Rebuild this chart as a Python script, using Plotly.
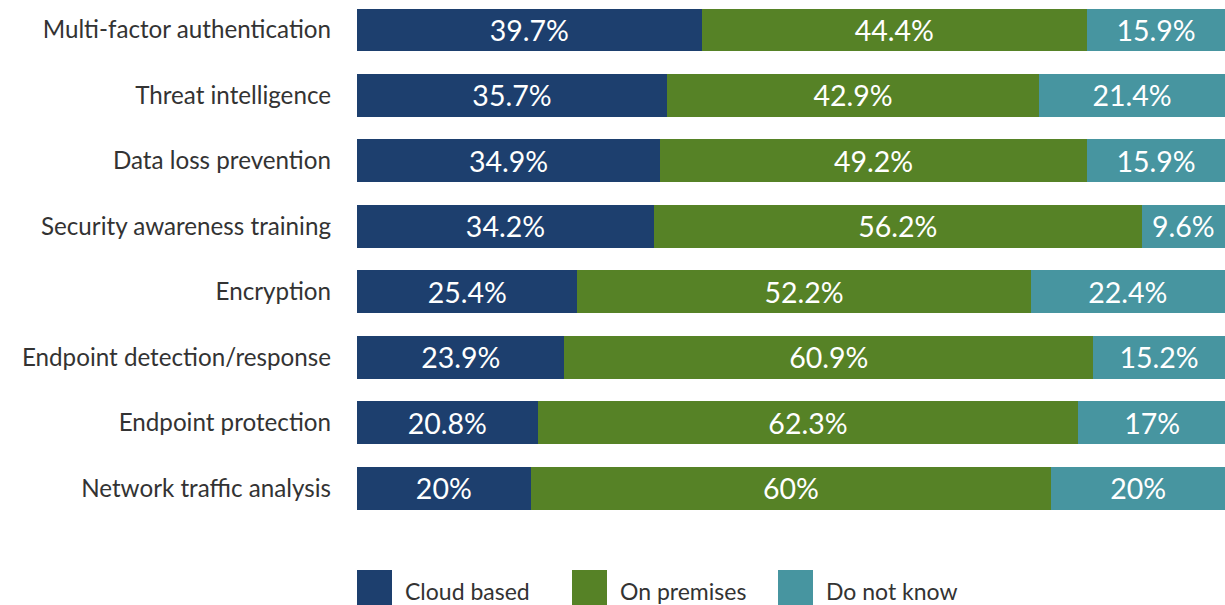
import plotly.graph_objects as go

categories = [
    "Multi-factor authentication",
    "Threat intelligence",
    "Data loss prevention",
    "Security awareness training",
    "Encryption",
    "Endpoint detection/response",
    "Endpoint protection",
    "Network traffic analysis",
]
series_names = ["Cloud based", "On premises", "Do not know"]
cloud_based = [39.7, 35.7, 34.9, 34.2, 25.4, 23.9, 20.8, 20]
on_premises = [44.4, 42.9, 49.2, 56.2, 52.2, 60.9, 62.3, 60]
do_not_know = [15.9, 21.4, 15.9, 9.6, 22.4, 15.2, 17, 20]
colors = ["#1d3f6e", "#568226", "#4795a0"]

W, H = 1225, 605
ML, MR, MT, MB = 357, 0, 0, 84
FONT = "Lato"

fig = go.Figure()
for name, vals, col in zip(series_names, [cloud_based, on_premises, do_not_know], colors):
    fig.add_trace(go.Bar(
        y=categories, x=vals, name=name, orientation="h",
        marker=dict(color=col, line=dict(width=0)),
        text=[f"{v:g}%" for v in vals],
        textposition="inside", insidetextanchor="middle",
        constraintext="none",
        textfont=dict(color="white", size=28.5, family=FONT),
        hoverinfo="skip",
    ))

# legend drawn as large swatches under the plot
plot_w = W - ML - MR
plot_h = H - MT - MB
legend_x_px = [357, 572, 778]
sw = 35
top_px = 570
shapes, annotations = [], []
for name, col, lx in zip(series_names, colors, legend_x_px):
    x0 = (lx - ML) / plot_w
    x1 = (lx + sw - ML) / plot_w
    y1 = (plot_h - (top_px - MT)) / plot_h
    y0 = (plot_h - (H + 5 - MT)) / plot_h
    shapes.append(dict(type="rect", xref="paper", yref="paper", x0=x0, x1=x1, y0=y0, y1=y1,
                       fillcolor=col, line=dict(width=0), layer="above"))
    annotations.append(dict(xref="paper", yref="paper",
                            x=(lx + sw + 11 - ML) / plot_w,
                            y=(plot_h - (591 - MT)) / plot_h,
                            text=name, showarrow=False, xanchor="left", yanchor="middle",
                            font=dict(size=23, color="#333333", family=FONT)))

fig.update_layout(
    barmode="stack", bargap=0.344,
    width=W, height=H,
    margin=dict(l=ML, r=MR, t=MT, b=MB, pad=0),
    paper_bgcolor="white", plot_bgcolor="white",
    showlegend=False,
    xaxis=dict(range=[0, 100], visible=False, fixedrange=True),
    yaxis=dict(range=[7.5, -0.458], showgrid=False, zeroline=False, showline=False,
               ticks="", ticklabelstandoff=25,
               tickfont=dict(size=24.2, color="#333333", family=FONT), fixedrange=True),
    shapes=shapes, annotations=annotations,
    font=dict(family=FONT),
)

fig.write_html("out.html", config={"displayModeBar": False})
